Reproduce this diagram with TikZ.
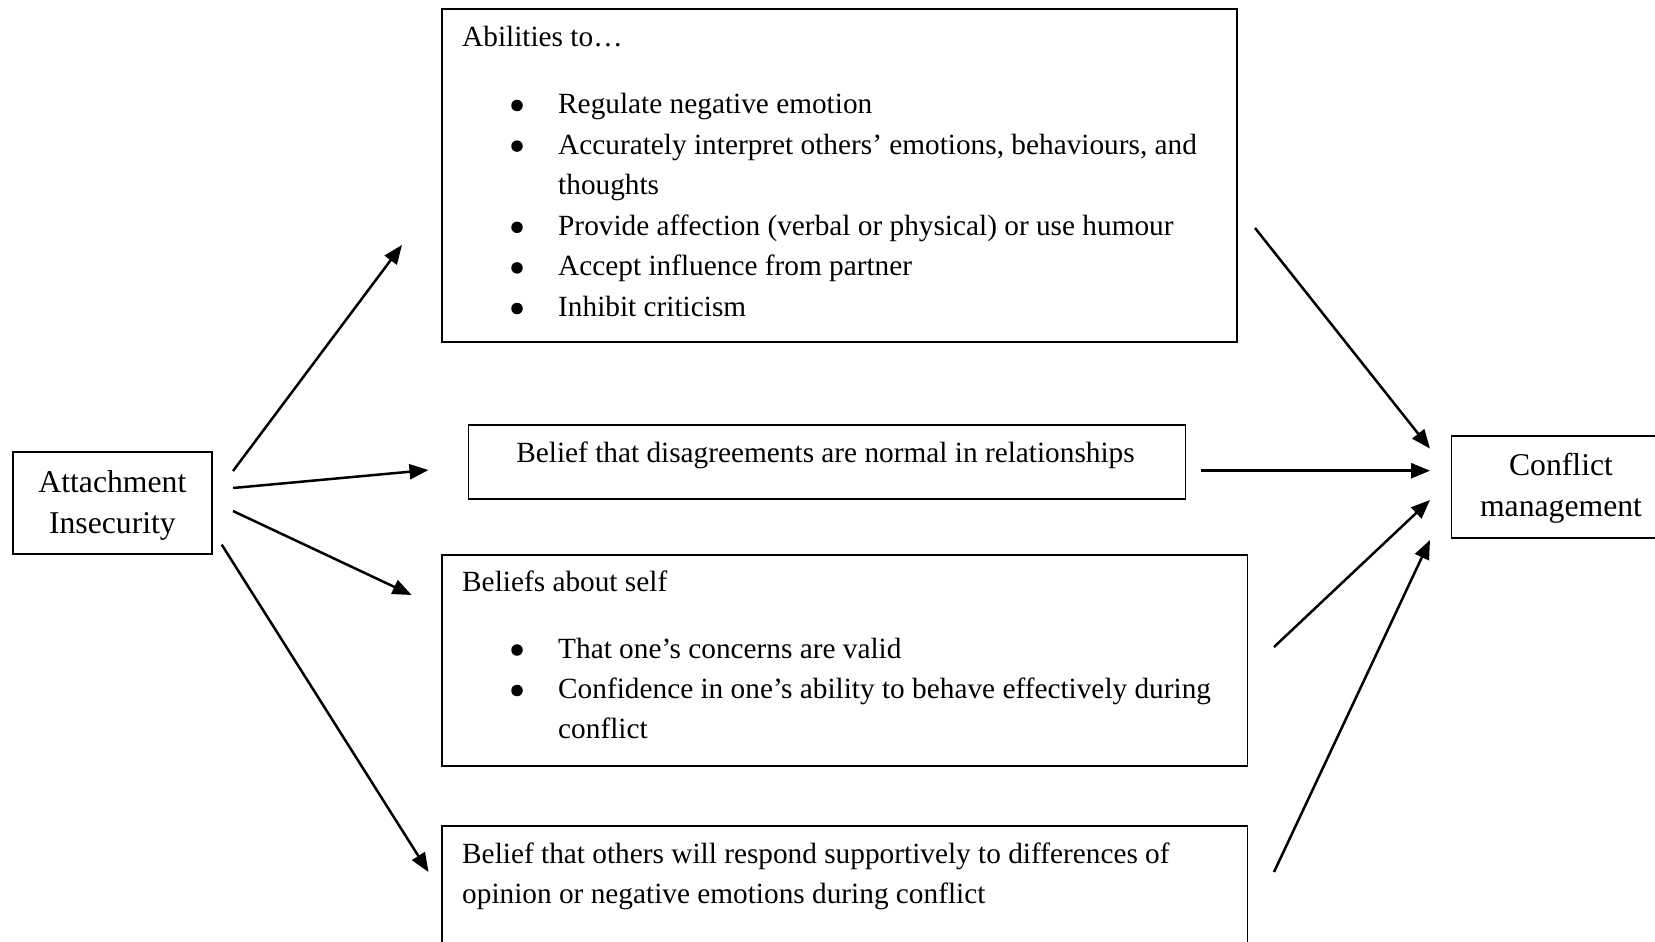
\documentclass[tikz,border=0pt]{standalone}
\usepackage{fontspec}
\setmainfont{Liberation Serif}
\usetikzlibrary{arrows.meta}
\begin{document}
\begin{tikzpicture}[x=1pt,y=-1pt,
  box/.style={draw,line width=1.6pt,inner sep=0pt,anchor=north west},
  sidebox/.style={draw,line width=1.6pt,inner sep=0pt,align=center,
    font=\fontsize{31.7}{41}\selectfont},
  txt/.style={anchor=base west,inner sep=0pt,font=\fontsize{29.3}{40.6}\selectfont},
  dot/.style={circle,fill,inner sep=0pt,minimum size=11.5pt},
  arr/.style={line width=2.5pt,-{Triangle[length=19pt,width=15pt]}}]
\useasboundingbox (0,0) rectangle (1655,942);

% side boxes; the text sits a little below the box centre
\node[draw,line width=1.6pt,inner sep=0pt,minimum width=199pt,minimum height=102pt] (att) at (112.4,503) {};
\node[sidebox,draw=none] (attT) at (112.4,505) {Attachment\\Insecurity};
\node[draw,line width=1.6pt,inner sep=0pt,minimum width=219pt,minimum height=102pt] (conf) at (1561,487) {};
\node[sidebox,draw=none] (confT) at (1561,488.5) {Conflict\\management};

% mediator boxes
\node[box,minimum width=795pt,minimum height=333pt] (abil) at (441,8) {};
\node[box,minimum width=717pt,minimum height=74pt] (norm) at (467.6,424.3) {};
\node[box,minimum width=805.5pt,minimum height=211pt] (self) at (441,554) {};
\node[box,minimum width=805.5pt,minimum height=160pt] (oth) at (441,825) {};

% abilities
\node[txt] (a0) at (462,47) {Abilities to…};
\node[txt] (a1) at (558,113.5) {Regulate negative emotion};
\node[txt] (a2) at (558,154.1) {Accurately interpret others’ emotions, behaviours, and};
\node[txt] (a3) at (558,194.7) {thoughts};
\node[txt] (a4) at (558,235.3) {Provide affection (verbal or physical) or use humour};
\node[txt] (a5) at (558,275.9) {Accept influence from partner};
\node[txt] (a6) at (558,316.5) {Inhibit criticism};
\node[dot] (b1) at (517,105.5) {};
\node[dot] (b2) at (517,146.1) {};
\node[dot] (b4) at (517,227.3) {};
\node[dot] (b5) at (517,267.9) {};
\node[dot] (b6) at (517,308.5) {};

% normal disagreements
\node[txt,anchor=base] (n0) at (825.5,462) {Belief that disagreements are normal in relationships};

% self beliefs
\node[txt] (s0) at (462,591.6) {Beliefs about self};
\node[txt] (s1) at (558,658) {That one’s concerns are valid};
\node[txt] (s2) at (558,698.5) {Confidence in one’s ability to behave effectively during};
\node[txt] (s3) at (558,738.5) {conflict};
\node[dot] (c1) at (517,650) {};
\node[dot] (c2) at (517,690.5) {};

% others' support
\node[txt] (o0) at (462,863) {Belief that others will respond supportively to differences of};
\node[txt] (o1) at (462,903) {opinion or negative emotions during conflict};

% arrow end points
\coordinate (p1) at (233,471);   \coordinate (q1) at (402,245);
\coordinate (p2) at (233,488);   \coordinate (q2) at (428.5,470);
\coordinate (p3) at (233,511);   \coordinate (q3) at (411.6,595);
\coordinate (p4) at (221.7,544.6); \coordinate (q4) at (428.5,872);
\coordinate (r1) at (1255,228);  \coordinate (t1) at (1430,448.6);
\coordinate (r2) at (1201,470.7); \coordinate (t2) at (1430,470.7);
\coordinate (r3) at (1274,647);  \coordinate (t3) at (1430,500);
\coordinate (r4) at (1274,872);  \coordinate (t4) at (1430,540);

\draw[arr] (p1) -- (q1);
\draw[arr] (p2) -- (q2);
\draw[arr] (p3) -- (q3);
\draw[arr] (p4) -- (q4);
\draw[arr] (r1) -- (t1);
\draw[arr] (r2) -- (t2);
\draw[arr] (r3) -- (t3);
\draw[arr] (r4) -- (t4);
\end{tikzpicture}
\end{document}
